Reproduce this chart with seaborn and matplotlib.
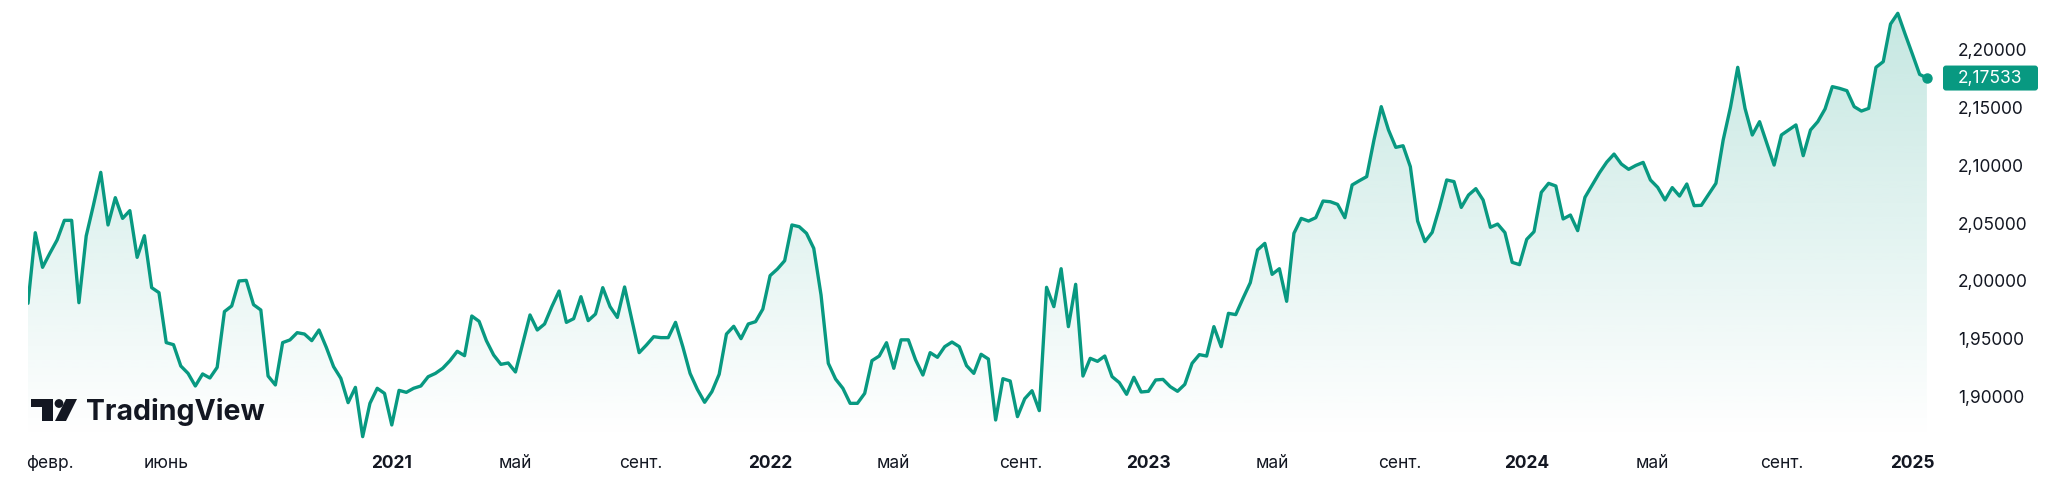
"""
EUR/NZD weekly close, 2020-2025 - TradingView style area chart
"""

import numpy as np
import pandas as pd
import seaborn as sns
import matplotlib.pyplot as plt
import matplotlib.dates as mdates
from matplotlib.colors import to_rgb
from matplotlib.patches import Polygon, FancyBboxPatch, Rectangle, Circle
from matplotlib.ticker import FuncFormatter

# weekly closes, first bar on start_date
start_date = "2020-01-20"
rates = [
    1.9806, 2.0416, 2.0117, 2.0238, 2.0353, 2.0523, 2.0523, 1.9811, 2.0388, 2.0656,
    2.0938, 2.0483, 2.0719, 2.0540, 2.0607, 2.0203, 2.0390, 1.9941, 1.9898, 1.9466,
    1.9448, 1.9264, 1.9200, 1.9091, 1.9195, 1.9160, 1.9252, 1.9734, 1.9783, 1.9999,
    2.0004, 1.9794, 1.9748, 1.9177, 1.9100, 1.9466, 1.9489, 1.9552,
    1.9540, 1.9483, 1.9575, 1.9425, 1.9258, 1.9157, 1.8947, 1.9079, 1.8653, 1.8941,
    1.9071, 1.9027, 1.8754, 1.9053, 1.9036, 1.9071, 1.9091, 1.9171, 1.9200, 1.9244,
    1.9310, 1.9391, 1.9353, 1.9696, 1.9650, 1.9483, 1.9359, 1.9278, 1.9290, 1.9212,
    1.9460, 1.9705, 1.9575, 1.9627, 1.9777, 1.9912, 1.9641,
    1.9673, 1.9863, 1.9656, 1.9713, 1.9941, 1.9777, 1.9684, 1.9947, 1.9661, 1.9379,
    1.9445, 1.9517, 1.9509, 1.9509, 1.9641, 1.9431, 1.9200, 1.9062, 1.8950, 1.9042,
    1.9192, 1.9540, 1.9607, 1.9500, 1.9627, 1.9647, 1.9756, 2.0045, 2.0102, 2.0174,
    2.0483, 2.0468, 2.0411, 2.0281, 1.9878, 1.9287, 1.9151,
    1.9071, 1.8941, 1.8941, 1.9027, 1.9310, 1.9350, 1.9465, 1.9244, 1.9490, 1.9490,
    1.9316, 1.9186, 1.9379, 1.9339, 1.9431, 1.9471, 1.9431, 1.9267, 1.9200, 1.9365,
    1.9324, 1.8797, 1.9154, 1.9134, 1.8826, 1.8981, 1.9050, 1.8878, 1.9944, 1.9777,
    2.0105, 1.9604, 1.9970, 1.9177, 1.9330, 1.9304, 1.9350,
    1.9172, 1.9120, 1.9019, 1.9166, 1.9039, 1.9045, 1.9143, 1.9148, 1.9085, 1.9045,
    1.9105, 1.9287, 1.9362, 1.9350, 1.9604, 1.9431, 1.9719, 1.9708, 1.9849, 1.9984,
    2.0267, 2.0324, 2.0056, 2.0105, 1.9823, 2.0411, 2.0540, 2.0517, 2.0546, 2.0690,
    2.0684, 2.0661, 2.0546, 2.0829, 2.0866, 2.0901,
    2.1218, 2.1506, 2.1304, 2.1154, 2.1168, 2.0987, 2.0517, 2.0339, 2.0419, 2.0633,
    2.0872, 2.0858, 2.0635, 2.0742, 2.0797, 2.0699, 2.0463, 2.0491, 2.0417, 2.0160,
    2.0140, 2.0359, 2.0425, 2.0765, 2.0843, 2.0820, 2.0535, 2.0569, 2.0434, 2.0722,
    2.0829, 2.0935, 2.1027, 2.1096, 2.1010, 2.0964, 2.0998, 2.1024,
    2.0872, 2.0808, 2.0699, 2.0806, 2.0733, 2.0837, 2.0650, 2.0653, 2.0748, 2.0843,
    2.1218, 2.1500, 2.1846, 2.1491, 2.1261, 2.1376, 2.1189, 2.1001, 2.1261, 2.1304,
    2.1348, 2.1082, 2.1304, 2.1376, 2.1486, 2.1679, 2.1664, 2.1644, 2.1506, 2.1468,
    2.1491, 2.1846, 2.1895, 2.2220, 2.2313, 2.2134, 2.1961, 2.1785, 2.17533,
]

tick_dates = [
    "2020-02-10", "2020-06-01", "2021-01-04", "2021-05-03", "2021-09-01",
    "2022-01-03", "2022-05-02", "2022-09-01", "2023-01-02", "2023-05-01",
    "2023-09-01", "2024-01-01", "2024-05-01", "2024-09-02", "2025-01-06",
]
tick_labels = [
    "февр.", "июнь", "2021", "май", "сент.",
    "2022", "май", "сент.", "2023", "май",
    "сент.", "2024", "май", "сент.", "2025",
]
y_ticks = [1.90, 1.95, 2.00, 2.05, 2.10, 2.15, 2.20]

LINE = "#089981"
TEXT = "#131722"
W, H = 2048, 494


def main():
    df = pd.DataFrame({
        "date": pd.date_range(start_date, periods=len(rates), freq="7D"),
        "rate": rates,
    })

    sns.set_theme(style="white")
    plt.rcParams["font.family"] = ["Inter", "DejaVu Sans"]

    fig = plt.figure(figsize=(W / 100, H / 100), dpi=100)
    fig.patch.set_facecolor("white")
    ax = fig.add_axes([28 / W, 54 / H, (1940 - 28) / W, 440 / H])

    x_num = mdates.date2num(df["date"])
    x_lo = x_num[0]
    x_hi = x_num[0] + 7 * 262.8
    y_lo, y_hi = 1.8624, 2.2428

    # gradient under the line, clipped to the area polygon
    verts = [(x_num[0], y_lo)] + list(zip(x_num, df["rate"])) + [(x_num[-1], y_lo)]
    area = Polygon(verts, facecolor="none", edgecolor="none")
    ax.add_patch(area)
    rgba = np.zeros((256, 1, 4))
    rgba[..., :3] = to_rgb(LINE)
    rgba[:, 0, 3] = np.linspace(0.24, 0.0, 256)
    ax.imshow(rgba, extent=[x_num[0], x_num[-1], y_lo, y_hi], origin="upper",
              aspect="auto", clip_path=area, zorder=1, interpolation="bilinear")

    sns.lineplot(data=df, x="date", y="rate", color=LINE, linewidth=2.4,
                 ax=ax, zorder=3)
    ax.plot(df["date"].iloc[-1], df["rate"].iloc[-1], "o", color=LINE,
            markersize=6.5, clip_on=False, zorder=4)

    ax.set_xlim(x_lo, x_hi)
    ax.set_ylim(y_lo, y_hi)
    ax.set_xlabel("")
    ax.set_ylabel("")

    # price axis on the right
    ax.yaxis.tick_right()
    ax.set_yticks(y_ticks)
    ax.yaxis.set_major_formatter(FuncFormatter(
        lambda v, pos: f"{v:.5f}".replace(".", ",")))
    ax.tick_params(axis="y", length=0, pad=13, labelsize=12.5, colors=TEXT)

    ax.set_xticks(pd.to_datetime(tick_dates))
    ax.set_xticklabels(tick_labels)
    ax.tick_params(axis="x", length=0, pad=11, labelsize=12.5, colors=TEXT)
    for lab in ax.get_xticklabels():
        if lab.get_text().isdigit():
            lab.set_fontweight("bold")

    sns.despine(ax=ax, left=True, bottom=True, right=True, top=True)
    ax.grid(False)
    ax.set_facecolor("none")

    # last price tag
    last = df["rate"].iloc[-1]
    y_pix = ax.transData.transform((x_num[-1], last))[1]
    fig.add_artist(FancyBboxPatch((1943, y_pix - 12.5), 95, 25,
                                  boxstyle="round,pad=0,rounding_size=3",
                                  transform=None, fc=LINE, ec="none"))
    fig.text(1958 / W, y_pix / H, f"{last:.5f}".replace(".", ","),
             color="white", fontsize=12.5, va="center", ha="left")

    # TradingView logo, bottom left
    def fy(y):
        return H - y
    fig.add_artist(Rectangle((31, fy(407)), 22, 8, transform=None,
                             fc=TEXT, ec="none"))
    fig.add_artist(Rectangle((42, fy(421)), 11, 22, transform=None,
                             fc=TEXT, ec="none"))
    fig.add_artist(Circle((59, fy(403.5)), 4.4, transform=None,
                          fc=TEXT, ec="none"))
    fig.add_artist(Polygon([(66, fy(399)), (77, fy(399)), (66, fy(421)),
                            (55, fy(421))], closed=True, transform=None,
                           fc=TEXT, ec="none"))
    fig.text(86 / W, fy(419.5) / H, "TradingView", color=TEXT, fontsize=20.5,
             fontweight="bold", va="baseline", ha="left")

    fig.savefig("out.png", dpi=100, facecolor="white")


if __name__ == "__main__":
    main()
